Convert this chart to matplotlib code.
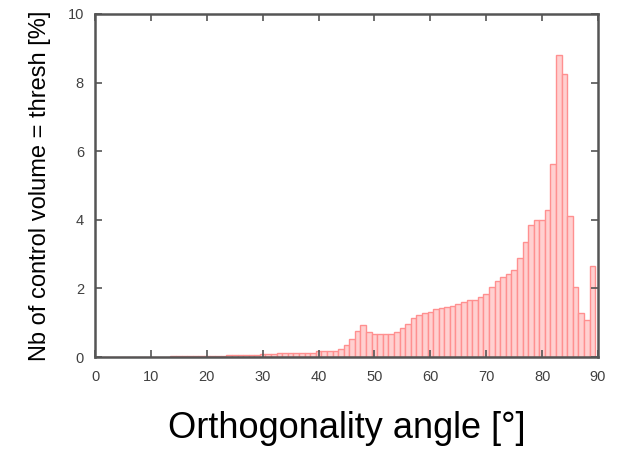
import numpy as np
import matplotlib
matplotlib.use("Agg")
import matplotlib.pyplot as plt

plt.rcParams["font.family"] = ["Liberation Sans", "DejaVu Sans"]

# histogram bins (1 degree each) and percentage of control volumes
angles = np.arange(0, 90)
percent = [
    0.0, 0.0, 0.0, 0.0, 0.0, 0.0, 0.0, 0.0, 0.0, 0.0,          # 0-9
    0.0, 0.0, 0.0, 0.0, 0.03, 0.03, 0.03, 0.03, 0.03, 0.03,    # 10-19
    0.03, 0.03, 0.03, 0.03, 0.07, 0.07, 0.07, 0.07, 0.07, 0.07,  # 20-29
    0.1, 0.1, 0.1, 0.11, 0.11, 0.11, 0.12, 0.12, 0.13, 0.13,   # 30-39
    0.17, 0.17, 0.17, 0.17, 0.22, 0.35, 0.52, 0.77, 0.93, 0.73,  # 40-49
    0.67, 0.67, 0.67, 0.67, 0.73, 0.84, 0.96, 1.13, 1.22, 1.29,  # 50-59
    1.32, 1.39, 1.42, 1.45, 1.49, 1.55, 1.59, 1.65, 1.67, 1.75,  # 60-69
    1.85, 2.05, 2.22, 2.34, 2.41, 2.55, 2.9, 3.35, 3.85, 4.0,    # 70-79
    4.0, 4.3, 5.63, 8.8, 8.25, 4.1, 2.04, 1.28, 1.08, 2.65,      # 80-89
]

fig = plt.figure(figsize=(6.28, 4.51), dpi=100)
ax = fig.add_axes([0.1513, 0.2084, 0.8009, 0.7606])

ax.bar(angles, percent, width=1.0, color="#ffd0d0", edgecolor="#ff9090", linewidth=1.0)

ax.set_xlim(0, 90)
ax.set_ylim(0, 10)
ax.set_xticks(range(0, 91, 10))
ax.set_yticks(range(0, 11, 2))

for s in ax.spines.values():
    s.set_color("#555555")
    s.set_linewidth(1.8)

ax.tick_params(direction="in", length=5, width=1.2, color="#555555",
               top=True, right=True, labelsize=10.5, labelcolor="#404040")
ax.tick_params(axis="x", pad=9)
ax.tick_params(axis="y", pad=8)

ax.set_ylabel("Nb of control volume = thresh [%]", fontsize=17, labelpad=12)
ax.set_xlabel("Orthogonality angle [°]", fontsize=26, labelpad=20)

fig.savefig("out.png", dpi=100)
